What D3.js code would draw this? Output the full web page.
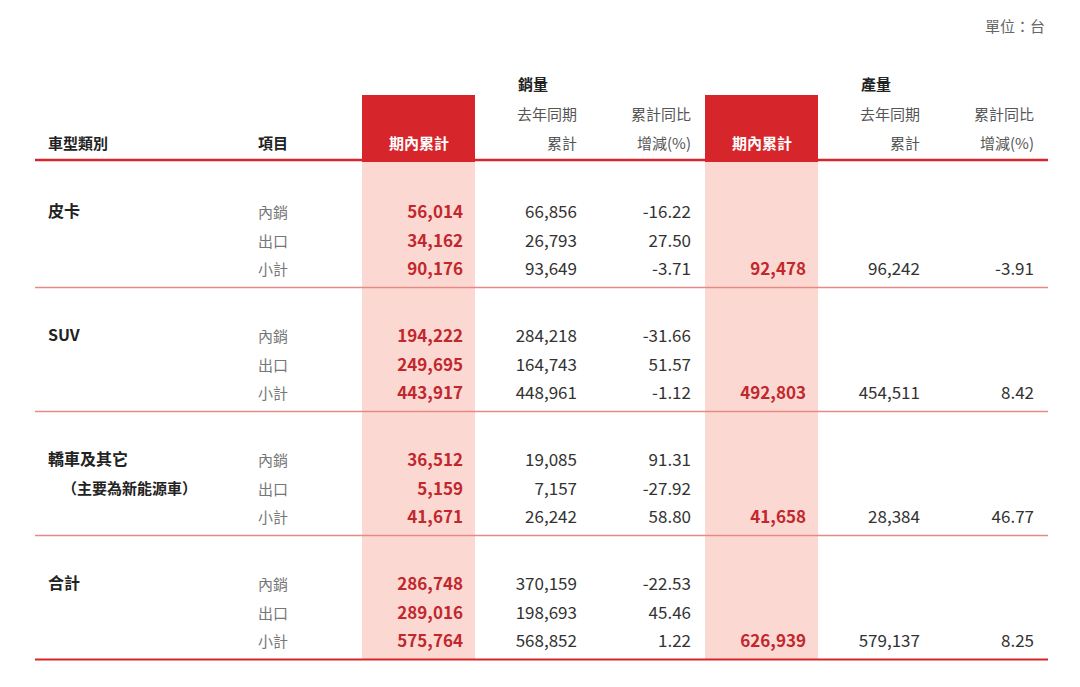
<!DOCTYPE html><html><head><meta charset="utf-8"><script src="https://cdn.jsdelivr.net/npm/d3@7"></script>
<style>body{margin:0;background:#fff}text{font-family:"Noto Sans CJK TC","Noto Sans",sans-serif}</style></head><body><svg id="c" width="1080" height="687"></svg>
<script>
const categories=["皮卡","SUV","轎車及其它","合計"];
const categoryNote=["","","（主要為新能源車）",""];
const items=["內銷","出口","小計"];
const salesCur=[[56014,34162,90176],[194222,249695,443917],[36512,5159,41671],[286748,289016,575764]];
const salesPrev=[[66856,26793,93649],[284218,164743,448961],[19085,7157,26242],[370159,198693,568852]];
const salesPct=[["-16.22","27.50","-3.71"],["-31.66","51.57","-1.12"],["91.31","-27.92","58.80"],["-22.53","45.46","1.22"]];
const prodCur=[92478,492803,41658,626939];
const prodPrev=[96242,454511,28384,579137];
const prodPct=["-3.91","8.42","46.77","8.25"];
const fmt=d3.format(",");
const svg=d3.select("#c");
const red="#d7262b",pink="#fbd9d2",grey="#555";
// column scale: right edges of numeric columns
const colKeys=["sc","sp","spc","pc","pp","ppc"];
const colX=d3.scaleOrdinal().domain(colKeys).range([463,577,691,806,920,1034]);
const boxW=113;
// row scale
const y=d3.scaleLinear().domain([0,1]).range([212,336]);
const rowY=(g,r)=>y(g)+r*28.7;
// pink bands
["sc","pc"].forEach(k=>{
 svg.append("rect").attr("x",colX(k)-101).attr("y",162).attr("width",boxW).attr("height",498).attr("fill",pink);
 svg.append("rect").attr("x",colX(k)-101).attr("y",95).attr("width",boxW).attr("height",67).attr("fill",red);
 svg.append("text").attr("x",colX(k)-44).attr("y",149).attr("text-anchor","middle").attr("fill","#fff").attr("font-size",15).attr("font-weight",700).text("期內累計");
});
// header
const h=(x,yy,t,o={})=>svg.append("text").attr("x",x).attr("y",yy).attr("text-anchor",o.a||"end").attr("font-size",o.s||15).attr("font-weight",o.w||400).attr("fill",o.c||"#333").text(t);
h(1045,32,"單位：台",{s:15,c:"#666"});
h(48,149,"車型類別",{a:"start",w:700,c:"#222"});
h(258,149,"項目",{a:"start",w:700,c:"#222"});
h(533,90,"銷量",{a:"middle",w:700,c:"#222"});
h(876,90,"產量",{a:"middle",w:700,c:"#222"});
["sp","pp"].forEach(k=>{h(colX(k),120,"去年同期",{c:grey});h(colX(k),149,"累計",{c:grey});});
["spc","ppc"].forEach(k=>{h(colX(k),120,"累計同比",{c:grey});h(colX(k),149,"增減(%)",{c:grey});});
svg.append("line").attr("x1",35).attr("x2",1048).attr("y1",160).attr("y2",160).attr("stroke",red).attr("stroke-width",2.5);
categories.forEach((c,g)=>{
 h(48,rowY(g,0)+5,c,{a:"start",w:700,c:"#222",s:16});
 if(categoryNote[g]) h(62,rowY(g,1)+5,categoryNote[g],{a:"start",w:700,c:"#222",s:15});
 items.forEach((it,r)=>{
  const yy=rowY(g,r)+6;
  h(258,yy,it,{a:"start",c:"#777",s:15});
  h(colX("sc"),yy,fmt(salesCur[g][r]),{c:"#c2272d",w:700,s:17});
  h(colX("sp"),yy,fmt(salesPrev[g][r]),{c:"#333",s:17});
  h(colX("spc"),yy,salesPct[g][r],{c:"#333",s:17});
 });
 const yy=rowY(g,2)+6;
 h(colX("pc"),yy,fmt(prodCur[g]),{c:"#c2272d",w:700,s:17});
 h(colX("pp"),yy,fmt(prodPrev[g]),{c:"#333",s:17});
 h(colX("ppc"),yy,prodPct[g],{c:"#333",s:17});
 svg.append("line").attr("x1",35).attr("x2",1048).attr("y1",rowY(g,2)+18).attr("y2",rowY(g,2)+18).attr("stroke",g==3?red:"#e58a84").attr("stroke-width",g==3?2:1.5);
});
</script></body></html>
